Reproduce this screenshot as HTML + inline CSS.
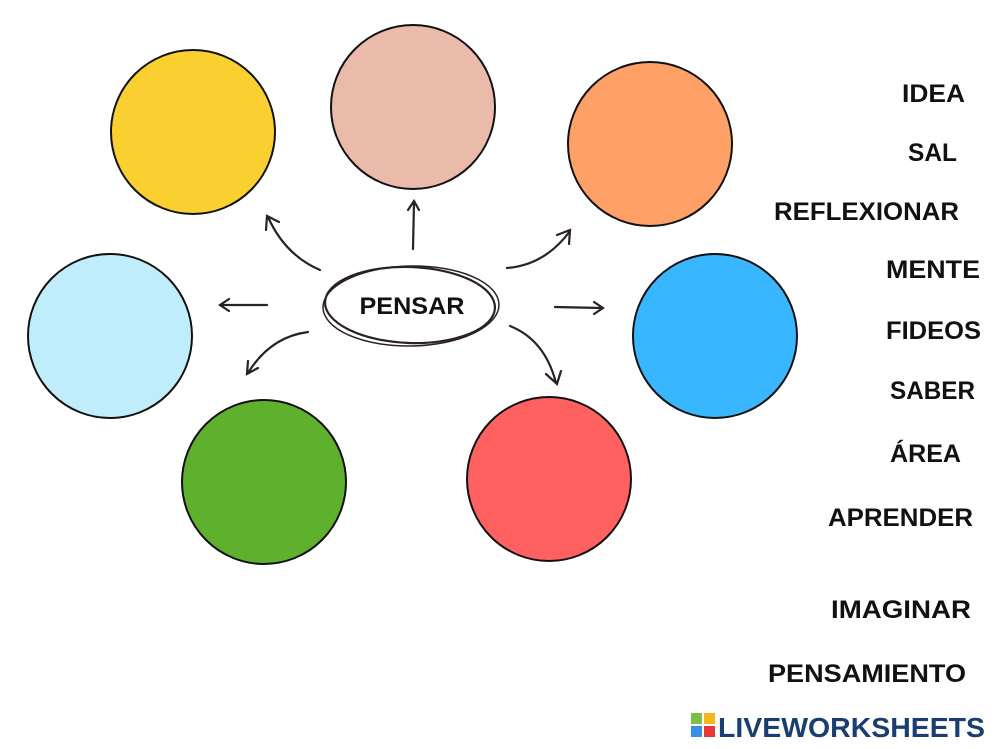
<!DOCTYPE html>
<html><head><meta charset="utf-8"><style>html,body{margin:0;padding:0;background:#fff}svg{display:block}</style></head>
<body>
<svg width="999" height="749" viewBox="0 0 999 749" xmlns="http://www.w3.org/2000/svg" font-family="Liberation Sans, sans-serif" font-weight="bold">
<rect width="999" height="749" fill="#fff"/>
<g stroke="#111" stroke-width="2">
<circle cx="193" cy="132" r="82" fill="#f9d030"/>
<circle cx="413" cy="107" r="82" fill="#eabbab"/>
<circle cx="650" cy="144" r="82" fill="#ffa066"/>
<circle cx="110" cy="336" r="82" fill="#c0edfb"/>
<circle cx="715" cy="336" r="82" fill="#38b6ff"/>
<circle cx="264" cy="482" r="82" fill="#5fb02d"/>
<circle cx="549" cy="479" r="82" fill="#ff6161"/>
</g>
<g fill="none" stroke="#2a2220" stroke-width="2.2" stroke-linecap="round">
<ellipse cx="410" cy="305" rx="85" ry="38" transform="rotate(2 410 305)"/>
<ellipse cx="411" cy="306" rx="88" ry="40" transform="rotate(-1 411 306)" stroke-width="1.5"/>
<path d="M413 249 L414 202 M408 210 L414 201 L419 210"/>
<path d="M320 270 Q285 255 268 217 M266 230 L267 216 L279 222"/>
<path d="M507 268 Q545 265 570 231 M557 235 L570 230 L569 244"/>
<path d="M267 305 L220 305 M229 299 L220 305 L229 311"/>
<path d="M555 307 L602 308 M594 302 L603 308 L594 314"/>
<path d="M308 332 Q270 337 248 373 M248 361 L247 374 L258 368"/>
<path d="M510 326 Q545 340 556 383 M546 374 L557 384 L561 371"/>
</g>
<text x="412" y="314" font-size="24" text-anchor="middle" fill="#111" textLength="105" lengthAdjust="spacingAndGlyphs">PENSAR</text>
<g font-size="25" fill="#111">
<text x="902" y="102" textLength="63" lengthAdjust="spacingAndGlyphs">IDEA</text>
<text x="908" y="161" textLength="49" lengthAdjust="spacingAndGlyphs">SAL</text>
<text x="774" y="220" textLength="185" lengthAdjust="spacingAndGlyphs">REFLEXIONAR</text>
<text x="886" y="278" textLength="94" lengthAdjust="spacingAndGlyphs">MENTE</text>
<text x="886" y="339" textLength="95" lengthAdjust="spacingAndGlyphs">FIDEOS</text>
<text x="890" y="399" textLength="85" lengthAdjust="spacingAndGlyphs">SABER</text>
<text x="890" y="462" textLength="71" lengthAdjust="spacingAndGlyphs">ÁREA</text>
<text x="828" y="526" textLength="145" lengthAdjust="spacingAndGlyphs">APRENDER</text>
<text x="831" y="618" textLength="140" lengthAdjust="spacingAndGlyphs">IMAGINAR</text>
<text x="768" y="682" textLength="198" lengthAdjust="spacingAndGlyphs">PENSAMIENTO</text>
</g>
<rect x="691" y="713" width="11" height="11" fill="#7cc242"/>
<rect x="704" y="713" width="11" height="11" fill="#f5b81c"/>
<rect x="691" y="726" width="11" height="11" fill="#3a8ee6"/>
<rect x="704" y="726" width="11" height="11" fill="#e53935"/>
<text x="718" y="737" font-size="28" fill="#1b3e70" textLength="267" lengthAdjust="spacingAndGlyphs">LIVEWORKSHEETS</text>
</svg>
</body></html>
